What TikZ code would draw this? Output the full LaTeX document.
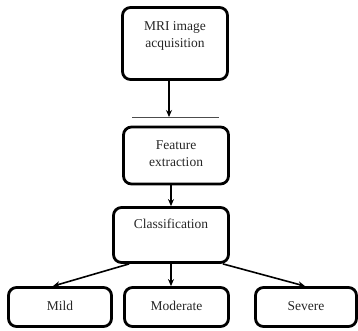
\documentclass[tikz,border=0pt]{standalone}
\usepackage{fontspec}
\setmainfont{Liberation Serif}
\usetikzlibrary{arrows.meta}
\begin{document}
\begin{tikzpicture}[x=1pt,y=-1pt,
  box/.style={draw=black,line width=2.8pt,rounded corners=8pt,inner sep=0pt},
  lbl/.style={font=\fontsize{13.5}{16.5}\selectfont,text=black!85,align=center,inner sep=0pt},
  conn/.style={line width=1.6pt,-{Stealth[length=7pt,width=6pt]}}]
\useasboundingbox (0,0) rectangle (358,330);
\node[box,minimum width=105pt,minimum height=72pt] (mri) at (175,43.5) {};
\node[lbl] (mrit) at (175,36) {MRI image\\acquisition};
\node[box,minimum width=105pt,minimum height=57pt] (feat) at (176,155.5) {};
\node[lbl] (featt) at (176,153.5) {Feature\\extraction};
\node[box,minimum width=115pt,minimum height=55pt] (cls) at (171,235) {};
\node[lbl] (clst) at (171,224) {Classification};
\node[box,minimum width=103pt,minimum height=39pt] (mild) at (60,307) {};
\node[lbl] (mildt) at (60,306) {Mild};
\node[box,minimum width=104pt,minimum height=39pt] (mod) at (176.5,307) {};
\node[lbl] (modt) at (176.5,306) {Moderate};
\node[box,minimum width=101pt,minimum height=39pt] (sev) at (306,307) {};
\node[lbl] (sevt) at (306,306) {Severe};
\coordinate (hl1) at (132,117.5);
\coordinate (hl2) at (219,117.5);
\draw[line width=0.6pt,black!70] (hl1) -- (hl2);
\coordinate (a1) at (169,117);
\draw[conn] (mri.south -| a1) -- (a1);
\draw[conn] (feat.south -| cls.north) -- (cls.north);
\draw[conn] ([xshift=17pt]cls.south west) -- ([xshift=-7pt]mild.north);
\draw[conn] (cls.south) -- (mod.north -| cls.south);
\draw[conn] ([xshift=-7pt]cls.south east) -- ([xshift=-1pt]sev.north);
\end{tikzpicture}
\end{document}
